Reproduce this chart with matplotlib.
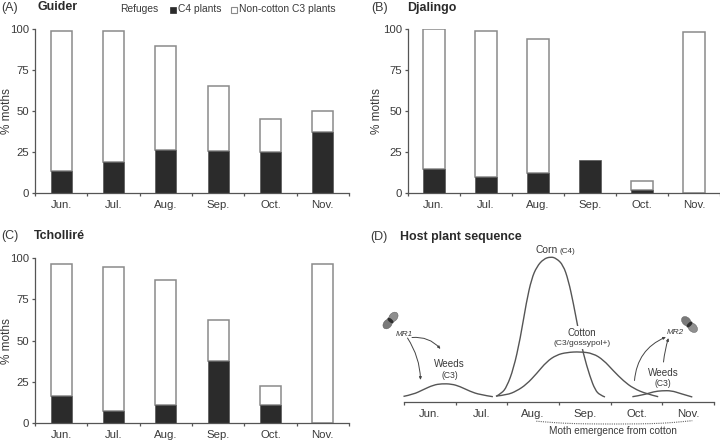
import math
import matplotlib
matplotlib.use("Agg")
import matplotlib.pyplot as plt
from matplotlib.patches import Ellipse, FancyArrowPatch, PathPatch, Rectangle
from matplotlib.path import Path
from matplotlib.transforms import IdentityTransform

plt.rcParams['font.family'] = ['Liberation Sans', 'DejaVu Sans']
INK = '#3a3a3a'
DARK = '#2b2b2b'
EDGE = '#8a8a8a'
W, H = 720, 441

months = ['Jun.', 'Jul.', 'Aug.', 'Sep.', 'Oct.', 'Nov.']
yticks = [0, 25, 50, 75, 100]

guider_c4 = [13.5, 19, 26.5, 26, 25, 37.5]
guider_c3 = [85, 79.5, 63, 39.5, 20, 12.5]
djalingo_c4 = [15, 10, 12.5, 20, 2, 0]
djalingo_c3 = [85, 88.5, 81.5, 0, 5.5, 98]
tchollire_c4 = [16.5, 7, 11, 37.5, 11, 0]
tchollire_c3 = [80, 88, 76, 25, 11.2, 96.3]

# Panel D curves: months along x, height in pixels above the axis
weeds1_x = [-0.01, 0.18, 0.37, 0.57, 0.73, 0.92, 1.08, 1.28, 1.47, 1.72]
weeds1_y = [5.3, 7.3, 12, 16.7, 18, 17.7, 15.3, 10.3, 7, 5]
corn_x = [1.78, 1.89, 1.99, 2.12, 2.25, 2.37, 2.47, 2.57, 2.70, 2.84, 2.95, 3.08, 3.18, 3.28, 3.37, 3.47, 3.60, 3.70, 3.79, 3.89]
corn_y = [5.3, 8.3, 15, 33, 63, 100, 123, 135, 142.7, 145, 143.3, 136.7, 121.7, 98, 73, 48, 25, 11.7, 6.7, 4.7]
cotton_x = [1.79, 1.99, 2.18, 2.37, 2.57, 2.76, 2.95, 3.15, 3.41, 3.66, 3.86, 4.05, 4.25, 4.44, 4.70, 4.92]
cotton_y = [5.7, 6.7, 10.7, 17.3, 28.3, 40, 46.7, 49.3, 50, 48.3, 41.7, 31, 20.7, 13.3, 7.7, 5]
weeds2_x = [4.42, 4.63, 4.83, 4.99, 5.18, 5.34, 5.58]
weeds2_y = [5, 6.7, 10, 11, 11, 8.3, 4.7]
emergence_x = [2.56, 2.9, 3.3, 3.8, 4.3, 4.8, 5.2, 5.58]
emergence_y = [-19.5, -21, -22, -22.3, -22.3, -22, -21, -19]

TICK = 8.2


def axes_px(x0, x1, ytop, ybot):
    return fig.add_axes([x0 / W, 1 - ybot / H, (x1 - x0) / W, (ybot - ytop) / H])


def bars(ax, c4, c3, ylabel_x):
    pos = list(range(len(months)))
    keep3 = [i for i in pos if c3[i] > 0]
    keep4 = [i for i in pos if c4[i] > 0]
    ax.bar(keep3, [c3[i] for i in keep3], 0.405, bottom=[c4[i] for i in keep3],
           facecolor='white', edgecolor=EDGE, linewidth=1.1)
    ax.bar(keep4, [c4[i] for i in keep4], 0.405, facecolor=DARK, edgecolor='#555555', linewidth=0.5)
    ax.set_xlim(-0.5, 5.5)
    ax.set_ylim(0, 100)
    ax.set_yticks(yticks)
    ax.set_xticks([i - 0.5 for i in range(7)])
    ax.set_xticklabels([])
    ax.set_xticks(pos, months, minor=True)
    ax.tick_params(axis='x', which='minor', length=0, pad=5, labelsize=TICK, labelcolor=INK)
    ax.set_ylabel('% moths', fontsize=8.5, color=INK)
    ax.yaxis.set_label_coords(ylabel_x, 0.5)
    ax.spines[['top', 'right']].set_visible(False)
    for s in ('left', 'bottom'):
        ax.spines[s].set_color('#555555')
        ax.spines[s].set_linewidth(0.9)
        ax.spines[s].set_zorder(5)
    ax.tick_params(axis='both', which='major', color='#555555', width=0.9, length=2.5, labelcolor=INK, labelsize=TICK)
    ax.tick_params(axis='y', pad=2)


def label(x, y, s, **kw):
    kw.setdefault('color', INK)
    kw.setdefault('fontsize', 9)
    fig.text(x / W, 1 - y / H, s, va='center', **kw)


fig = plt.figure(figsize=(7.2, 4.41), dpi=100)

axA = axes_px(35, 349, 29, 193.3)
bars(axA, guider_c4, guider_c3, (13 - 35) / 314)
axB = axes_px(408, 720, 29, 193.3)
bars(axB, djalingo_c4, djalingo_c3, (383 - 408) / 312)
axC = axes_px(35, 349, 258.3, 423)
bars(axC, tchollire_c4, tchollire_c3, (13 - 35) / 314)

# Panel titles
TITLE = dict(fontweight='bold', color='#2a2a2a', fontsize=8.9)
label(1, 8, '(A)')
label(37, 7.5, 'Guider', **TITLE)
label(371, 8, '(B)')
label(407, 8, 'Djalingo', **TITLE)
label(1, 236, '(C)')
label(34, 236, 'Tcholliré', **TITLE)
label(370, 237, '(D)')
label(400, 237, 'Host plant sequence', **TITLE)

# Legend of panel A
label(120, 9.5, 'Refuges', fontsize=7.4)
label(178, 9.5, 'C4 plants', fontsize=7.4)
label(239, 9.5, 'Non-cotton C3 plants', fontsize=7.4)
fig.add_artist(Rectangle((170 / W, 1 - 12.5 / H), 5.5 / W, 5.5 / H, transform=fig.transFigure,
                         facecolor=DARK, edgecolor=DARK, linewidth=0.5))
fig.add_artist(Rectangle((231 / W, 1 - 12.5 / H), 5.5 / W, 5.5 / H, transform=fig.transFigure,
                         facecolor='white', edgecolor=EDGE, linewidth=0.8))

# Panel D
axD = axes_px(404, 714, 240, 401.7)
axD.set_xlim(0, 6)
axD.set_ylim(0, 161.7)
axD.patch.set_alpha(0)
axD.spines[['top', 'right', 'left']].set_visible(False)
axD.spines['bottom'].set_color('#555555')
axD.spines['bottom'].set_linewidth(0.9)
axD.set_yticks([])
axD.set_xticks(range(7))
axD.set_xticklabels([])
axD.set_xticks([i + 0.5 for i in range(6)], months, minor=True)
axD.tick_params(axis='x', which='major', length=2.5, width=0.9, color='#555555')
axD.tick_params(axis='x', which='minor', length=0, pad=5, labelsize=TICK, labelcolor=INK)


def smooth(ax, xs, ys, **kw):
    """Quadratic curve through the read points' midpoints, so the line has no corners."""
    pts = list(zip(xs, ys))
    verts = [pts[0]]
    codes = [Path.MOVETO]
    for i in range(1, len(pts) - 1):
        mid = ((pts[i][0] + pts[i + 1][0]) / 2, (pts[i][1] + pts[i + 1][1]) / 2)
        end = pts[-1] if i == len(pts) - 2 else mid
        verts += [pts[i], end]
        codes += [Path.CURVE3, Path.CURVE3]
    ax.add_patch(PathPatch(Path(verts, codes), facecolor='none', clip_on=False, **kw))


CURVE = '#555555'
for xs, ys in ((weeds1_x, weeds1_y), (corn_x, corn_y), (cotton_x, cotton_y), (weeds2_x, weeds2_y)):
    smooth(axD, xs, ys, edgecolor=CURVE, lw=1.0)
smooth(axD, emergence_x, emergence_y, edgecolor='#666666', lw=0.8, ls=(0, (1, 1)))

label(613, 430.7, 'Moth emergence from cotton', ha='center', fontsize=7.2)
label(536, 250.5, 'Corn', ha='left', fontsize=7.4)
label(559, 251.5, '(C4)', ha='left', fontsize=5.9)
# The labels sit on a white patch: the corn curve breaks behind them in the reference
WHITE = dict(facecolor='white', edgecolor='none', pad=1.5)
label(582, 332.7, 'Cotton', ha='center', fontsize=7, bbox=WHITE)
label(582, 343.5, '(C3/gossypol+)', ha='center', fontsize=6.1, bbox=WHITE)
label(449, 364, 'Weeds', ha='center', fontsize=7.1)
label(450, 376, '(C3)', ha='center', fontsize=6.2)
label(663, 373, 'Weeds', ha='center', fontsize=7.1)
label(663, 384, '(C3)', ha='center', fontsize=6.2)
label(396, 334, 'MR1', ha='left', style='italic', fontsize=5.9)
label(667, 332, 'MR2', ha='left', style='italic', fontsize=5.9)


def arrow(x0, y0, x1, y1, rad):
    fig.add_artist(FancyArrowPatch((x0 / W, 1 - y0 / H), (x1 / W, 1 - y1 / H),
                                   transform=fig.transFigure,
                                   connectionstyle=f'arc3,rad={rad}',
                                   arrowstyle='-|>,head_length=1.6,head_width=0.7',
                                   color='#444444', lw=0.7, shrinkA=0, shrinkB=0))


arrow(407.5, 338, 420.5, 380, -0.14)
arrow(412, 337.5, 440.5, 349, -0.25)
arrow(634.5, 380.5, 666, 337, -0.3)
arrow(663.5, 362, 668.5, 338, -0.05)


def moth(cx, cy, angle):
    """Small moth: grey wing lobes along a diagonal with a dark centre, in pixel units."""
    a = math.radians(angle)
    dx, dy = math.cos(a) * 4.5, math.sin(a) * 4.5
    y = H - cy
    tr = IdentityTransform()
    fig.add_artist(Ellipse((cx + dx, y + dy), 11, 8, angle=angle, transform=tr,
                           facecolor='#8f8f8f', edgecolor='#555555', linewidth=0.3))
    fig.add_artist(Ellipse((cx - dx, y - dy), 11, 8, angle=angle, transform=tr,
                           facecolor='#7a7a7a', edgecolor='#555555', linewidth=0.3))
    fig.add_artist(Ellipse((cx, y), 3.5, 7.5, angle=angle, transform=tr,
                           facecolor='#2f2f2f', edgecolor='none'))


moth(390.5, 320.5, 50)
moth(689.5, 324.5, -45)

fig.savefig('out.png', dpi=100)
